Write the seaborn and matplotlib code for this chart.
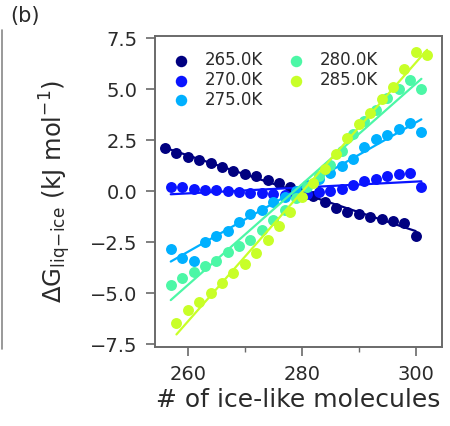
import numpy as np
import pandas as pd
import matplotlib
matplotlib.use("Agg")
import matplotlib.pyplot as plt
from matplotlib.lines import Line2D
from matplotlib.ticker import MultipleLocator
import seaborn as sns

# ---------------- data ----------------
temps = ["265.0K", "270.0K", "275.0K", "280.0K", "285.0K"]
colors = ["#000080", "#0a14ff", "#00b0ff", "#4cf7a6", "#c8ff28"]

x_265 = list(range(256, 301, 2))
y_265 = [2.1, 1.85, 1.68, 1.55, 1.38, 1.2, 1.0, 0.85, 0.75, 0.57, 0.4, 0.2,
         0.0, -0.25, -0.55, -0.82, -1.0, -1.1, -1.25, -1.37, -1.47, -1.55, -2.2]

x_270 = list(range(257, 302, 2))
y_270 = [0.22, 0.2, 0.1, 0.05, 0.05, 0.0, -0.05, -0.1, -0.1, -0.15, -0.2, -0.2,
         -0.15, -0.05, 0.0, 0.1, 0.3, 0.5, 0.62, 0.75, 0.85, 0.9, 0.2]

x_275 = list(range(257, 302, 2))
y_275 = [-2.85, -3.3, -3.4, -2.5, -2.2, -1.95, -1.5, -1.1, -0.9, -0.55, -0.3, 0.0,
         0.3, 0.6, 0.9, 1.25, 1.6, 2.15, 2.55, 2.75, 3.05, 3.35, 2.9]

x_280 = list(range(257, 302, 2))
y_280 = [-4.6, -4.25, -3.95, -3.65, -3.4, -3.0, -2.7, -2.4, -1.9, -1.4, -0.9, -0.35,
         0.2, 0.75, 1.3, 1.95, 2.8, 3.45, 4.0, 4.55, 5.0, 5.45, 5.0]

x_285 = list(range(258, 303, 2))
y_285 = [-6.45, -5.85, -5.45, -5.0, -4.5, -4.0, -3.55, -3.05, -2.4, -1.7, -1.0, -0.3,
         0.4, 1.1, 1.8, 2.6, 3.3, 3.85, 4.5, 5.1, 6.0, 6.85, 6.7]

xs = [x_265, x_270, x_275, x_280, x_285]
ys = [y_265, y_270, y_275, y_280, y_285]

xticks = [260, 280, 300]
yticks = [-7.5, -5.0, -2.5, 0.0, 2.5, 5.0, 7.5]
ytick_labels = ["\u22127.5", "\u22125.0", "\u22122.5", "0.0", "2.5", "5.0", "7.5"]

frames = [pd.DataFrame({"n": x, "dG": y, "T": t}) for x, y, t in zip(xs, ys, temps)]
df = pd.concat(frames, ignore_index=True)

# ---------------- style ----------------
sns.set_style("ticks")
plt.rcParams["font.family"] = ["DejaVu Sans"]
spine_c = "#6a6a6a"
text_c = "#2a2a2a"

fig = plt.figure(figsize=(4.5, 4.26), dpi=100)
ax = fig.add_axes([0.344, 0.185, 0.638, 0.73])

palette = dict(zip(temps, colors))
for t in temps:
    sub = df[df["T"] == t]
    sns.scatterplot(data=sub, x="n", y="dG", color=palette[t], s=62,
                    linewidth=0, ax=ax, label=t, zorder=3)
    sns.regplot(data=sub, x="n", y="dG", scatter=False, ci=None, ax=ax,
                color=palette[t], line_kws={"lw": 1.6, "zorder": 3})

ax.set_xlim(254.2, 304.6)
ax.set_ylim(-7.65, 7.6)
ax.set_xticks(xticks)
ax.xaxis.set_minor_locator(MultipleLocator(10))
ax.set_yticks(yticks)
ax.set_yticklabels(ytick_labels)

for s in ax.spines.values():
    s.set_color(spine_c)
    s.set_linewidth(1.4)
ax.tick_params(which="major", direction="out", length=6.5, width=1.2, pad=6,
               colors=spine_c, labelcolor=text_c, labelsize=14)
ax.tick_params(which="minor", direction="out", length=3.5, width=1.0, colors=spine_c)

ax.set_xlabel("# of ice-like molecules", fontsize=18, color=text_c, labelpad=3)
ax.set_ylabel(r"$\mathrm{\Delta G_{liq\!-\!ice}}$ (kJ mol$^{-1}$)", fontsize=17.5,
              color=text_c, labelpad=12)

leg = ax.legend(loc="upper left", ncol=2, frameon=False, fontsize=12,
                handletextpad=0.7, columnspacing=1.3, labelspacing=0.1,
                borderaxespad=0.6, borderpad=0.3, handlelength=1.4,
                markerscale=1.05)
for txt in leg.get_texts():
    txt.set_color(text_c)

fig.text(0.022, 0.963, "(b)", fontsize=15, color=text_c, ha="left", va="center")
fig.add_artist(Line2D([0.005, 0.005], [0.18, 0.93], transform=fig.transFigure,
                      color="#888888", lw=1.2))

fig.savefig("out.png", dpi=100)
